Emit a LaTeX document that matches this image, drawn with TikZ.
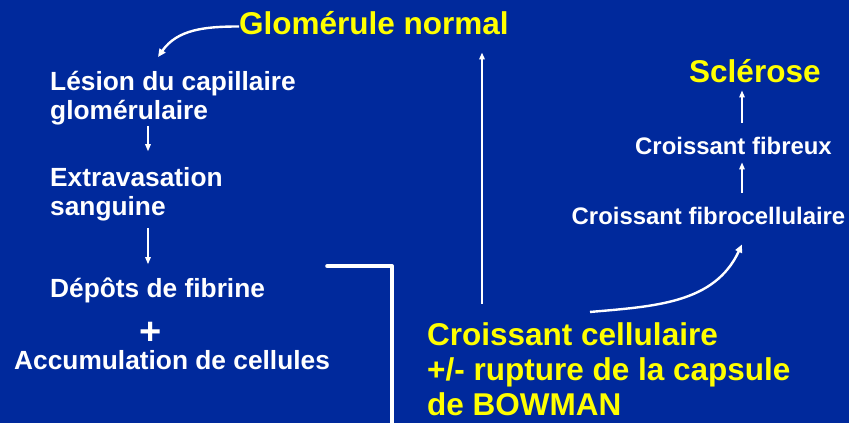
\documentclass[tikz,border=0pt]{standalone}
\usepackage{fontspec}
\setmainfont{Liberation Sans}
\usetikzlibrary{arrows.meta}
\definecolor{fondbleu}{HTML}{00299C}
\definecolor{jaune}{HTML}{FFFF00}
\tikzset{
  etape/.style={anchor=base west,inner sep=0pt,align=left,text=white,
    font=\fontsize{26.3}{29.5}\selectfont\bfseries},
  etapedroite/.style={etape,font=\fontsize{23.9}{28}\selectfont\bfseries},
  titre/.style={etape,text=jaune,font=\fontsize{31.5}{35}\selectfont\bfseries},
  signe/.style={inner sep=0pt,text=white,font=\fontsize{38}{38}\selectfont\bfseries},
  fleche/.style={white,line width=1.4pt,-{Triangle[length=7pt,width=5.5pt]}},
  longue/.style={fleche,line width=2pt},
  courbe/.style={white,line width=2.4pt,-{Triangle[length=8pt,width=7pt]}},
  crochet/.style={white,line width=4pt,line cap=round,line join=round}
}
\begin{document}
\begin{tikzpicture}[x=1pt,y=1pt]
\fill[fondbleu] (0,0) rectangle (849,423);
% left column
\node[titre] (glom) at (239,388.5) {Glomérule normal};
\node[etape] (lesion) at (50,303) {Lésion du capillaire\\glomérulaire};
\node[etape] (extrav) at (50,207) {Extravasation\\sanguine};
\node[etape] (depots) at (50,125) {Dépôts de fibrine};
\node[signe] (plus) at (151,90) {+};
\node[etape] (accum) at (14,53) {Accumulation de cellules};
% right column
\node[titre] (croiss) at (427,7) {Croissant cellulaire\\+/- rupture de la capsule\\de BOWMAN};
\node[etapedroite] (fibrocell) at (571.5,198) {Croissant fibrocellulaire};
\node[etapedroite] (fibreux) at (635,268) {Croissant fibreux};
\node[titre] (sclerose) at (689,340.5) {Sclérose};
\coordinate (gauche) at (148,0);
\coordinate (milieu) at (482,0);
\coordinate (droite) at (742,0);
\coordinate (bas) at (392,-5);
% connectors
\draw[courbe] ([yshift=8]glom.base west) to[out=180,in=55] ([xshift=108,yshift=14]lesion.north west);
\draw[fleche,shorten >=16pt] (lesion.south -| gauche) -- (extrav.north -| gauche);
\draw[fleche,shorten <=6pt,shorten >=14pt] (extrav.south -| gauche) -- (depots.north -| gauche);
\draw[crochet] ([xshift=62,yshift=12]depots.north east) -| (bas);
\draw[longue,shorten <=19pt,shorten >=17.5pt] (croiss.north -| milieu) -- (glom.south -| milieu);
\draw[courbe] ([xshift=163,yshift=11]croiss.north west) to[out=5,in=245] ([xshift=170.5,yshift=-19]fibrocell.south west);
\draw[fleche,shorten <=14.5pt,shorten >=7pt] (fibrocell.north -| droite) -- (fibreux.south -| droite);
\draw[fleche,shorten <=14.5pt,shorten >=7.5pt] (fibreux.north -| droite) -- (sclerose.south -| droite);
\end{tikzpicture}
\end{document}
